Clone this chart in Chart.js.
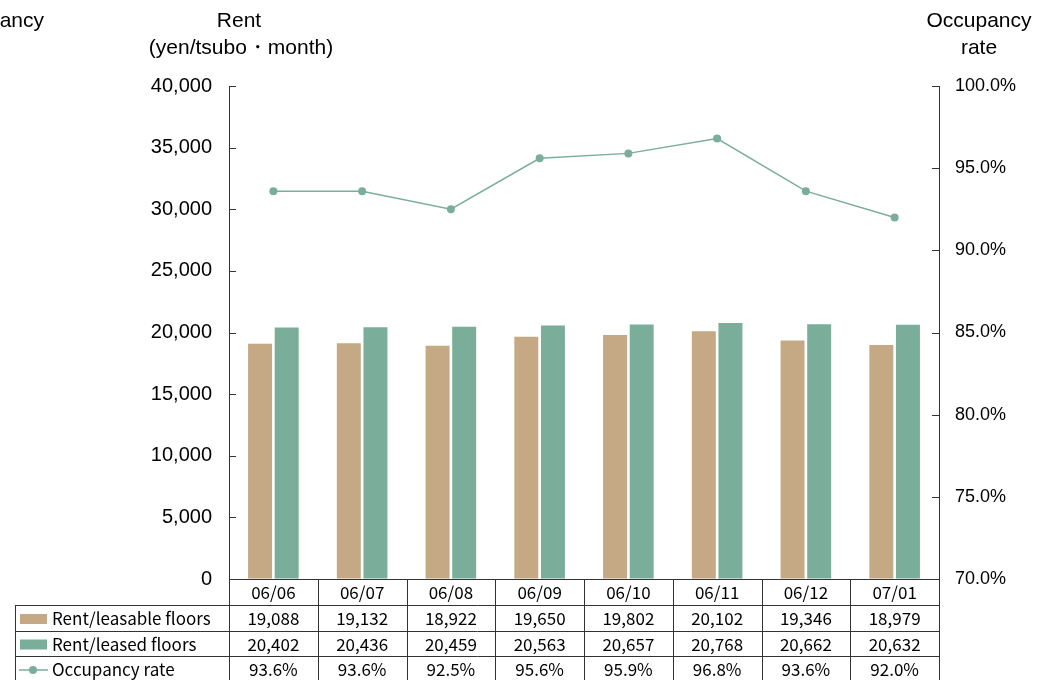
<!DOCTYPE html>
<html>
<head>
<meta charset="utf-8">
<script src="https://cdn.jsdelivr.net/npm/chart.js@4.4.1/dist/chart.umd.min.js"></script>
<style>
  html, body { margin: 0; padding: 0; background: #fff; }
  canvas { display: block; }
</style>
</head>
<body>
<canvas id="rentChart" width="1039" height="680"></canvas>
<script>
// Monthly figures
const months = ['06/06', '06/07', '06/08', '06/09', '06/10', '06/11', '06/12', '07/01'];
const rentLeasable = [19088, 19132, 18922, 19650, 19802, 20102, 19346, 18979];
const rentLeased = [20402, 20436, 20459, 20563, 20657, 20768, 20662, 20632];
const occupancy = [93.6, 93.6, 92.5, 95.6, 95.9, 96.8, 93.6, 92.0];

const seriesNames = ['Rent/leasable floors', 'Rent/leased floors', 'Occupancy rate'];
const tanColor = '#c4a984';
const greenColor = '#7bad9b';

const tickFont = "'Liberation Sans', Arial, sans-serif";
const tableFont = "'Noto Sans CJK JP', 'Liberation Sans', sans-serif";

// small inward tick marks on both value axes
const innerTicks = {
  id: 'innerTicks',
  afterDraw(chart) {
    const c = chart.ctx;
    const area = chart.chartArea;
    c.save();
    c.strokeStyle = '#333';
    c.lineWidth = 1;
    chart.scales.y.ticks.forEach(t => {
      const y = Math.round(chart.scales.y.getPixelForValue(t.value)) + 0.5;
      c.beginPath();
      c.moveTo(area.left, y);
      c.lineTo(area.left + 7, y);
      c.stroke();
    });
    chart.scales.y1.ticks.forEach(t => {
      const y = Math.round(chart.scales.y1.getPixelForValue(t.value)) + 0.5;
      c.beginPath();
      c.moveTo(area.right - 7, y);
      c.lineTo(area.right, y);
      c.stroke();
    });
    c.restore();
  }
};

// axis titles above the plot
const axisTitles = {
  id: 'axisTitles',
  afterDraw(chart) {
    const c = chart.ctx;
    c.save();
    c.fillStyle = '#000';
    c.font = "21px " + tickFont;
    c.textBaseline = 'middle';
    c.textAlign = 'center';
    c.fillText('Rent', 239, 21);
    c.fillText('(yen/tsubo\u30FBmonth)', 241, 48);
    c.fillText('Occupancy', 979, 21);
    c.fillText('rate', 979, 48);
    c.textAlign = 'right';
    c.fillText('Occupancy', 44, 21);
    c.restore();
  }
};

// data table under the plot
const dataTable = {
  id: 'dataTable',
  afterDraw(chart) {
    const c = chart.ctx;
    const area = chart.chartArea;
    const colW = (area.right - area.left) / months.length;
    const rows = [579, 605, 631, 656, 682];
    const tableLeft = 15;
    c.save();
    c.strokeStyle = '#333';
    c.lineWidth = 1;
    // horizontal lines
    c.beginPath();
    c.moveTo(area.left, rows[0] + 0.5);
    c.lineTo(area.right + 1, rows[0] + 0.5);
    for (let r = 1; r < rows.length - 1; r++) {
      c.moveTo(tableLeft, rows[r] + 0.5);
      c.lineTo(area.right + 1, rows[r] + 0.5);
    }
    // vertical lines
    c.moveTo(tableLeft + 0.5, rows[1]);
    c.lineTo(tableLeft + 0.5, rows[4]);
    for (let i = 0; i <= months.length; i++) {
      const x = Math.round(area.left + i * colW) + 0.5;
      c.moveTo(x, rows[0]);
      c.lineTo(x, rows[4]);
    }
    c.stroke();

    // cell text
    c.fillStyle = '#000';
    c.font = "17px " + tableFont;
    c.textAlign = 'center';
    c.textBaseline = 'middle';
    const cells = [
      months,
      rentLeasable.map(v => v.toLocaleString('en-US')),
      rentLeased.map(v => v.toLocaleString('en-US')),
      occupancy.map(v => v.toFixed(1) + '%')
    ];
    cells.forEach((row, r) => {
      const cy = (rows[r] + rows[r + 1]) / 2 + 1;
      row.forEach((txt, i) => {
        c.fillText(txt, chart.scales.x.getPixelForValue(i), cy);
      });
    });

    // row headers with series keys
    c.textAlign = 'left';
    for (let r = 1; r <= 3; r++) {
      const cy = (rows[r] + rows[r + 1]) / 2 + 1;
      if (r === 1 || r === 2) {
        c.fillStyle = r === 1 ? tanColor : greenColor;
        c.fillRect(20, cy - 5, 27, 10);
      } else {
        c.strokeStyle = greenColor;
        c.lineWidth = 1.5;
        c.beginPath();
        c.moveTo(19, cy);
        c.lineTo(48, cy);
        c.stroke();
        c.fillStyle = greenColor;
        c.beginPath();
        c.arc(33, cy, 4, 0, Math.PI * 2);
        c.fill();
      }
      c.fillStyle = '#000';
      c.fillText(seriesNames[r - 1], 52, cy);
    }
    c.restore();
  }
};

const ctx = document.getElementById('rentChart').getContext('2d');
const rentChart = new Chart(ctx, {
  data: {
    labels: months,
    datasets: [
      {
        type: 'line',
        label: seriesNames[2],
        data: occupancy,
        yAxisID: 'y1',
        borderColor: greenColor,
        backgroundColor: greenColor,
        borderWidth: 1.5,
        pointRadius: 4,
        pointBorderWidth: 0,
        tension: 0,
        order: 0
      },
      {
        type: 'bar',
        label: seriesNames[0],
        data: rentLeasable,
        yAxisID: 'y',
        backgroundColor: tanColor,
        categoryPercentage: 0.6,
        barPercentage: 0.9,
        order: 1
      },
      {
        type: 'bar',
        label: seriesNames[1],
        data: rentLeased,
        yAxisID: 'y',
        backgroundColor: greenColor,
        categoryPercentage: 0.6,
        barPercentage: 0.9,
        order: 1
      }
    ]
  },
  options: {
    responsive: false,
    animation: false,
    layout: { padding: { left: 0, right: 0, top: 86, bottom: 101 } },
    plugins: {
      legend: { display: false },
      tooltip: { enabled: false }
    },
    scales: {
      x: {
        display: false
      },
      y: {
        position: 'left',
        min: 0,
        max: 40000,
        afterFit(scale) { scale.width = 229; },
        ticks: {
          stepSize: 5000,
          padding: 17,
          color: '#000',
          font: { family: tickFont, size: 20 },
          callback: v => v.toLocaleString('en-US')
        },
        grid: { drawOnChartArea: false, drawTicks: false },
        border: { display: true, color: '#333', width: 1 }
      },
      y1: {
        position: 'right',
        min: 70,
        max: 100,
        afterFit(scale) { scale.width = 100; },
        ticks: {
          stepSize: 5,
          padding: 16,
          color: '#000',
          font: { family: tickFont, size: 18 },
          callback: v => v.toFixed(1) + '%'
        },
        grid: { drawOnChartArea: false, drawTicks: false },
        border: { display: true, color: '#333', width: 1 }
      }
    }
  },
  plugins: [innerTicks, axisTitles, dataTable]
});
</script>
</body>
</html>
